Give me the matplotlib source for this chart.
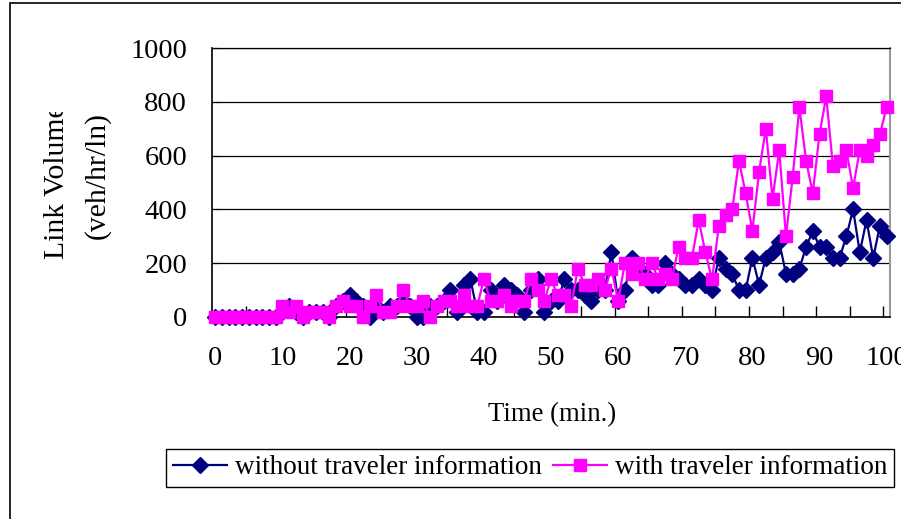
import matplotlib
matplotlib.use("Agg")
import matplotlib.pyplot as plt
from matplotlib.patches import Rectangle

# minutes 0..100
minutes = list(range(101))

without_info = [
    0, 0, 0, 0, 0, 0, 0, 0, 0, 0,
    20, 40, 20, 0, 20, 20, 20, 0, 40, 60,
    80, 60, 40, 0, 40, 20, 40, 40, 60, 40,
    0, 0, 40, 40, 60, 100, 20, 120, 140, 20,
    20, 100, 60, 120, 100, 80, 20, 100, 140, 20,
    60, 60, 140, 100, 100, 80, 60, 100, 100, 240,
    60, 100, 220, 180, 160, 120, 120, 200, 160, 140,
    120, 120, 140, 120, 100, 220, 180, 160, 100, 100,
    220, 120, 220, 240, 280, 160, 160, 180, 260, 320,
    260, 260, 220, 220, 300, 400, 240, 360, 220, 340,
    300,
]

with_info = [
    0, 0, 0, 0, 0, 0, 0, 0, 0, 0,
    40, 20, 40, 0, 20, 20, 20, 0, 40, 60,
    40, 40, 0, 40, 80, 20, 20, 40, 100, 40,
    40, 60, 0, 40, 60, 60, 40, 80, 40, 40,
    140, 60, 60, 80, 40, 60, 60, 140, 100, 60,
    140, 80, 80, 40, 180, 120, 120, 140, 100, 180,
    60, 200, 160, 200, 140, 200, 140, 160, 140, 260,
    220, 220, 360, 240, 140, 340, 380, 400, 580, 460,
    320, 540, 700, 440, 620, 300, 520, 780, 580, 460,
    680, 820, 560, 580, 620, 480, 620, 600, 640, 680,
    780,
]

x_ticks = list(range(0, 101, 10))
y_ticks = list(range(0, 1001, 200))

plt.rcParams['font.family'] = ['Liberation Serif', 'DejaVu Serif']
tick_fs = 20.5
label_fs = 21.3
leg_fs = 19.5

W, H = 901, 519
fig = plt.figure(figsize=(W / 100, H / 100), dpi=100)

# outer frame of the chart area
fig.patches.append(Rectangle((10 / W, -0.1), 1.2, 0.1 + 516 / H, transform=fig.transFigure,
                             fill=False, edgecolor='black', linewidth=1.2))

ax = fig.add_axes([212 / W, 1 - 317 / H, (890 - 212) / W, (317 - 48) / H])

ax.plot(minutes, without_info, color='#000080', linewidth=1.6, marker='D', markersize=8,
        markerfacecolor='#000080', markeredgecolor='#000080', clip_on=False, zorder=3,
        label='without traveler information')
ax.plot(minutes, with_info, color='#FF00FF', linewidth=1.6, marker='s', markersize=8,
        markerfacecolor='#FF00FF', markeredgecolor='#FF00FF', clip_on=False, zorder=4,
        label='with traveler information')

ax.set_xlim(-0.5, 100.5)
ax.set_ylim(0, 1000)
ax.set_yticks(y_ticks)
ax.set_xticks(x_ticks)
ax.set_xticks([k - 0.5 for k in range(5, 101, 5)], minor=True)
ax.tick_params(axis='x', which='major', length=0, pad=21, labelsize=tick_fs)
ax.tick_params(axis='x', which='minor', direction='in', length=8, width=1, color='black')
ax.tick_params(axis='y', direction='in', length=6, pad=18, labelsize=tick_fs)
ax.yaxis.grid(True, color='black', linewidth=0.9)
ax.set_axisbelow(True)

for s in ['left', 'bottom']:
    ax.spines[s].set_color('black')
    ax.spines[s].set_linewidth(1.2)
ax.spines['top'].set_color('black')
ax.spines['top'].set_linewidth(0.9)
ax.spines['right'].set_color('#999999')
ax.spines['right'].set_linewidth(1.5)

fig.text(552 / W, 1 - 415 / H, 'Time (min.)', ha='center', va='center', fontsize=19.3)

# the first title line is cut off at its top in the original chart
fig.text(57 / W, 1 - 259 / H, 'Link Volume', rotation=90, ha='center', va='bottom',
         fontsize=label_fs, zorder=3)
fig.add_artist(Rectangle((35 / W, 1 - 112 / H), 40 / W, 100 / H, transform=fig.transFigure,
                         facecolor='white', edgecolor='none', zorder=5))
fig.text(97 / W, 1 - 176 / H, '(veh/hr/ln)', rotation=90, ha='center', va='center',
         fontsize=label_fs)

leg = fig.legend(loc='center', bbox_to_anchor=(530 / W, 1 - 468 / H), ncol=2, fontsize=leg_fs,
                 frameon=True, fancybox=False, edgecolor='black', framealpha=1,
                 handlelength=2.0, handletextpad=0.3, columnspacing=0.4,
                 borderpad=0.25, borderaxespad=0)
leg.get_frame().set_linewidth(1.0)

fig.savefig('out.png', dpi=100)
